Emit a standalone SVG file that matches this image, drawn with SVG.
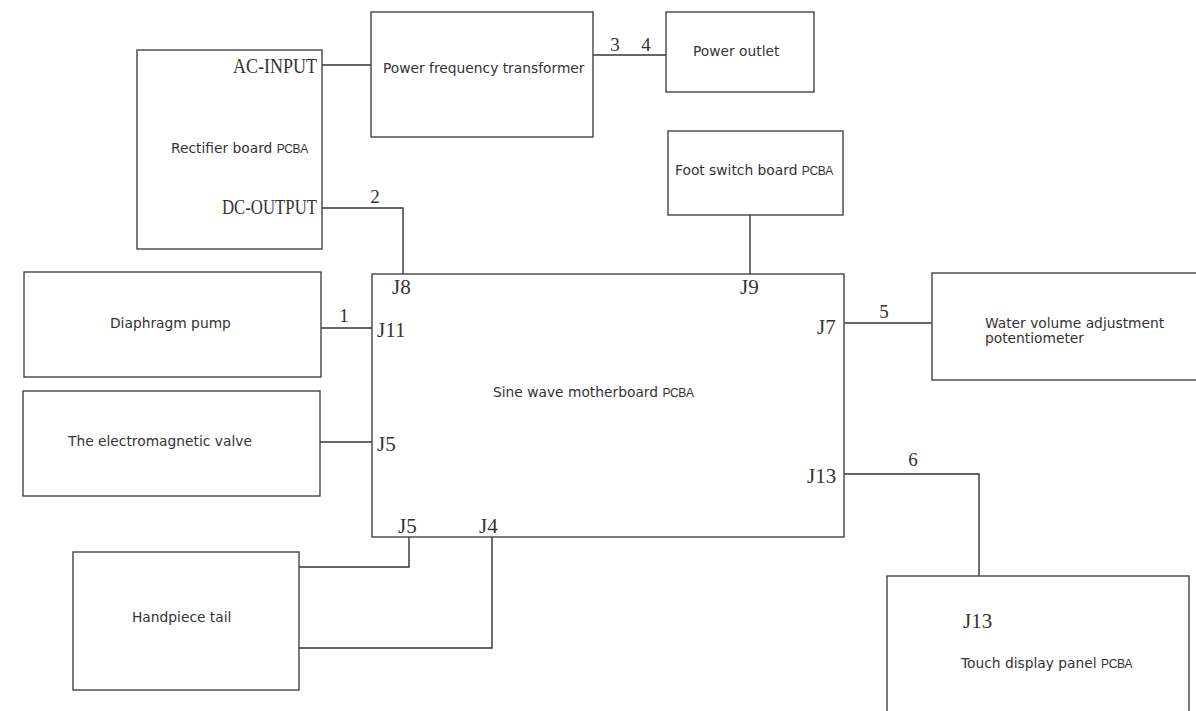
<svg xmlns="http://www.w3.org/2000/svg" width="1196" height="711" viewBox="0 0 1196 711">
<style>
.box{fill:#fff;stroke:#444;stroke-width:1.4}
.wire{fill:none;stroke:#333;stroke-width:1.4}
.t{font-family:"DejaVu Sans",sans-serif;font-size:13.8px;fill:#333}
.p{font-family:"Liberation Sans",sans-serif;font-size:12px;letter-spacing:-0.4px}
.j{font-family:"Liberation Serif",serif;font-size:21px;fill:#333}
.n{font-family:"Liberation Serif",serif;font-size:19px;fill:#333}
</style>
<rect width="1196" height="711" fill="#fff"/>
<g id="connectors">
<polyline class="wire" points="322,65 371,65"/>
<polyline class="wire" points="593,55 666,55"/>
<polyline class="wire" points="322,208 403,208 403,274"/>
<polyline class="wire" points="750,215 750,274"/>
<polyline class="wire" points="321,328 372,328"/>
<polyline class="wire" points="320,442 372,442"/>
<polyline class="wire" points="844,323 932,323"/>
<polyline class="wire" points="844,474 979,474 979,576"/>
<polyline class="wire" points="299,567 409,567 409,537"/>
<polyline class="wire" points="299,648 492,648 492,537"/>
<text class="n" x="375" y="203" text-anchor="middle">2</text>
<text class="n" x="615" y="51" text-anchor="middle">3</text>
<text class="n" x="646" y="51" text-anchor="middle">4</text>
<text class="n" x="344" y="322" text-anchor="middle">1</text>
<text class="n" x="884" y="318" text-anchor="middle">5</text>
<text class="n" x="913" y="466" text-anchor="middle">6</text>
</g>
<g id="rectifier">
<rect class="box" x="137" y="50" width="185" height="199"/>
<text class="j" x="317" y="73" text-anchor="end" textLength="84" lengthAdjust="spacingAndGlyphs">AC-INPUT</text>
<text class="j" x="317" y="214" text-anchor="end" textLength="95" lengthAdjust="spacingAndGlyphs">DC-OUTPUT</text>
<text class="t" x="171" y="153">Rectifier board <tspan class="p">PCBA</tspan></text>
</g>
<g id="transformer">
<rect class="box" x="371" y="12" width="222" height="125"/>
<text class="t" x="383" y="73">Power frequency transformer</text>
</g>
<g id="outlet">
<rect class="box" x="666" y="12" width="148" height="80"/>
<text class="t" x="693" y="56">Power outlet</text>
</g>
<g id="footswitch">
<rect class="box" x="668" y="131" width="175" height="84"/>
<text class="t" x="675" y="175">Foot switch board <tspan class="p">PCBA</tspan></text>
</g>
<g id="motherboard">
<rect class="box" x="372" y="274" width="472" height="263"/>
<text class="j" x="392" y="294">J8</text>
<text class="j" x="740" y="294">J9</text>
<text class="j" x="377" y="337">J11</text>
<text class="j" x="377" y="451">J5</text>
<text class="j" x="817" y="334">J7</text>
<text class="j" x="807" y="483">J13</text>
<text class="j" x="398" y="533">J5</text>
<text class="j" x="479" y="533">J4</text>
<text class="t" x="493" y="397">Sine wave motherboard <tspan class="p">PCBA</tspan></text>
</g>
<g id="pump">
<rect class="box" x="24" y="272" width="297" height="105"/>
<text class="t" x="110" y="328">Diaphragm pump</text>
</g>
<g id="valve">
<rect class="box" x="23" y="391" width="297" height="105"/>
<text class="t" x="68" y="446">The electromagnetic valve</text>
</g>
<g id="potentiometer">
<rect class="box" x="932" y="273" width="270" height="107"/>
<text class="t" x="985" y="328">Water volume adjustment</text>
<text class="t" x="985" y="343">potentiometer</text>
</g>
<g id="handpiece">
<rect class="box" x="73" y="552" width="226" height="138"/>
<text class="t" x="132" y="622">Handpiece tail</text>
</g>
<g id="touchpanel">
<rect class="box" x="887" y="576" width="302" height="150"/>
<text class="j" x="963" y="628">J13</text>
<text class="t" x="961" y="668">Touch display panel <tspan class="p">PCBA</tspan></text>
</g>
</svg>
